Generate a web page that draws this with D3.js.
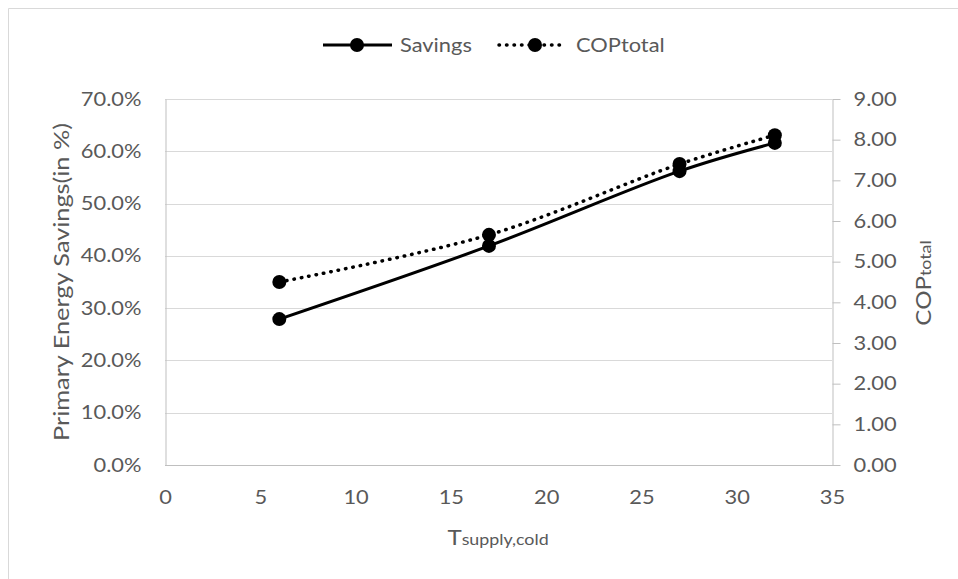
<!DOCTYPE html>
<html><head><meta charset="utf-8">
<script src="https://cdn.jsdelivr.net/npm/d3@7"></script>
<style>body{margin:0;background:#fff}svg{display:block}</style>
</head><body><svg id="c" width="958" height="579"></svg>
<script>
// ---- data ----
const xValues = [6, 17, 27, 32];
const savings = [0.279, 0.419, 0.562, 0.616];
const copTotal = [4.50, 5.66, 7.40, 8.11];
const xTicks = [0, 5, 10, 15, 20, 25, 30, 35];
const leftTicks = [0, 0.1, 0.2, 0.3, 0.4, 0.5, 0.6, 0.7];
const rightTicks = [0, 1, 2, 3, 4, 5, 6, 7, 8, 9];
const seriesNames = ["Savings", "COP"];
const seriesSub = ["", "total"];

// ---- styling ----
const FONT = "Lato, 'Open Sans', sans-serif";
const FS = 19, KX = 1.15, TXT = "#595959";
const svg = d3.select("#c");
const L = 165, R = 832, T = 99, B = 465;

const x = d3.scaleLinear().domain([0, 35]).range([L, R]);
const yL = d3.scaleLinear().domain([0, 0.7]).range([B, T]);
const yR = d3.scaleLinear().domain([0, 9]).range([B, T]);

svg.append("rect").attr("width", 958).attr("height", 579).attr("fill", "#fff");
svg.append("path").attr("d", "M8.5,579V8.5H958").attr("fill", "none").attr("stroke", "#d9d9d9").attr("stroke-width", 1);

// gridlines
svg.append("g").selectAll("line").data(leftTicks.filter(d => d > 0)).join("line")
  .attr("x1", L).attr("x2", R).attr("y1", d => Math.round(yL(d)) + 0.5).attr("y2", d => Math.round(yL(d)) + 0.5)
  .attr("stroke", "#d9d9d9").attr("stroke-width", 1);

function stretch(sel) {
  sel.each(function () {
    const t = d3.select(this);
    const xx = +t.attr("x") || 0;
    t.attr("transform", `translate(${xx},0) scale(${KX},1) translate(${-xx},0)`);
  });
}

// left axis
const gL = svg.append("g").attr("transform", `translate(${L + 0.5},0)`)
  .call(d3.axisLeft(yL).tickValues(leftTicks).tickSize(0).tickPadding(24).tickFormat(d3.format(".1%")));
gL.select(".domain").attr("stroke", "#bfbfbf").attr("stroke-width", 1);
gL.selectAll("text").attr("font-family", FONT).attr("font-size", FS).attr("fill", TXT).call(stretch);

// right axis
const gR = svg.append("g").attr("transform", `translate(${R + 0.5},0)`)
  .call(d3.axisRight(yR).tickValues(rightTicks).tickSizeInner(8).tickSizeOuter(0).tickPadding(13).tickFormat(d3.format(".2f")));
gR.select(".domain").attr("stroke", "#bfbfbf").attr("stroke-width", 1);
gR.selectAll(".tick line").attr("stroke", "#bfbfbf");
gR.selectAll("text").attr("font-family", FONT).attr("font-size", FS).attr("fill", TXT).call(stretch);

// bottom axis
const gB = svg.append("g").attr("transform", `translate(0,${B + 0.5})`)
  .call(d3.axisBottom(x).tickValues(xTicks).tickSize(0).tickPadding(25).tickFormat(d3.format("d")));
gB.select(".domain").attr("stroke", "#bfbfbf").attr("stroke-width", 1).attr("d", `M${L},0H${R + 8}`);
gB.selectAll("text").attr("font-family", FONT).attr("font-size", FS).attr("fill", TXT).call(stretch);

// axis titles
function title(tx, ty, rot, parts) {
  const t = svg.append("text").attr("transform", `translate(${tx},${ty}) rotate(${rot}) scale(${KX},1)`)
    .attr("text-anchor", "middle").attr("font-family", FONT).attr("fill", TXT);
  parts.forEach(p => t.append("tspan").attr("font-size", p[1]).text(p[0]));
  return t;
}
title(498, 545, 0, [["T", 21], ["supply,cold", 15.5]]);
title(69, 282, -90, [["Primary Energy Savings(in %)", 22]]);
title(931, 283, -90, [["COP", 21], ["total", 15.5]]);

// lines
const pts = (ys, sc) => xValues.map((v, i) => [x(v), sc(ys[i])]);
const line = d3.line().curve(d3.curveCatmullRom.alpha(0.5));
const sPts = pts(savings, yL), cPts = pts(copTotal, yR);
svg.append("path").attr("d", line(sPts)).attr("fill", "none").attr("stroke", "#000").attr("stroke-width", 3);
svg.append("path").attr("d", line(cPts)).attr("fill", "none").attr("stroke", "#000").attr("stroke-width", 3.5)
  .attr("stroke-dasharray", "0.5 7").attr("stroke-linecap", "round");
svg.append("g").selectAll("circle").data(sPts.concat(cPts)).join("circle")
  .attr("cx", d => d[0]).attr("cy", d => d[1]).attr("r", 7).attr("fill", "#000");

// legend
const leg = [
  { x1: 323, x2: 392, m: 357, tx: 400, dash: null },
  { x1: 499, x2: 565, m: 535, tx: 576, dash: "0.5 7" }
];
leg.forEach((l, i) => {
  const p = svg.append("line").attr("x1", l.x1).attr("x2", l.x2).attr("y1", 45).attr("y2", 45)
    .attr("stroke", "#000").attr("stroke-width", l.dash ? 3.5 : 3);
  if (l.dash) p.attr("stroke-dasharray", l.dash).attr("stroke-linecap", "round");
  svg.append("circle").attr("cx", l.m).attr("cy", 45).attr("r", 7).attr("fill", "#000");
  const t = svg.append("text").attr("transform", `translate(${l.tx},52) scale(${KX},1)`)
    .attr("font-family", FONT).attr("font-size", FS).attr("fill", TXT);
  t.append("tspan").text(seriesNames[i]);
  if (seriesSub[i]) t.append("tspan").text(seriesSub[i]);
});
</script></body></html>
